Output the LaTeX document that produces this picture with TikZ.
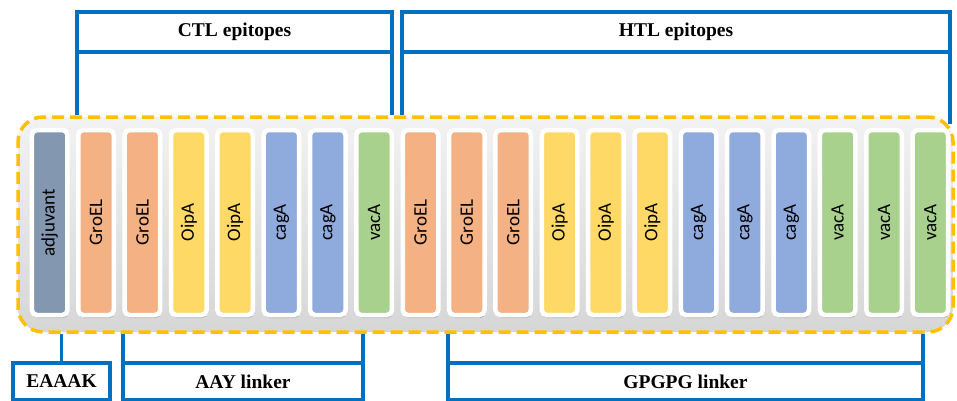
\documentclass[tikz,border=0pt]{standalone}
\usepackage{fontspec}
\setmainfont{Liberation Serif}
\newfontfamily\barfont{Carlito}
\usepackage{tikz}
\usetikzlibrary{positioning,shadows}
\definecolor{linkblue}{HTML}{0070C0}
\definecolor{dashgold}{HTML}{FFC000}
\definecolor{adjcol}{HTML}{8497B0}
\definecolor{grocol}{HTML}{F4B183}
\definecolor{oipcol}{HTML}{FFD966}
\definecolor{cagcol}{HTML}{8FAADC}
\definecolor{vaccol}{HTML}{A9D18E}

\begin{document}
\begin{tikzpicture}[x=1pt,y=-1pt,node distance=6.35pt,
  seg/.style={rectangle,rounded corners=5pt,draw=white,line width=4.5pt,minimum width=35.5pt,minimum height=185pt,inner sep=0pt,font=\barfont\fontsize{19}{19}\selectfont,drop shadow={shadow xshift=0.8pt,shadow yshift=-3pt,fill=black!40,opacity=.6}},
  head/.style={rectangle,draw=linkblue,line width=3.2pt,outer sep=0pt,fill=white,minimum height=40pt,font=\bfseries\fontsize{19.5}{20}\selectfont},
  link/.style={rectangle,draw=linkblue,line width=3.2pt,outer sep=0pt,fill=white,minimum height=37pt,font=\bfseries\fontsize{19.5}{20}\selectfont},
  leg/.style={draw=linkblue,line width=3.2pt}]
 \useasboundingbox (0,0) rectangle (957,400);

 % dashed frame round the construct
 \node (frame) [rectangle,rounded corners=25pt,draw=dashgold,line width=3.5pt,dash pattern=on 12pt off 6pt,top color=black!5,bottom color=black!16,minimum width=935pt,minimum height=215pt] at (485.5,224.5) {};

 \node (b1) [seg,fill=adjcol] at (49.7,222.5) {\rotatebox{90}{adjuvant}};
 \node (b2) [seg,fill=grocol,right=of b1] {\rotatebox{90}{GroEL}};
 \node (b3) [seg,fill=grocol,right=of b2] {\rotatebox{90}{GroEL}};
 \node (b4) [seg,fill=oipcol,right=of b3] {\rotatebox{90}{OipA}};
 \node (b5) [seg,fill=oipcol,right=of b4] {\rotatebox{90}{OipA}};
 \node (b6) [seg,fill=cagcol,right=of b5] {\rotatebox{90}{cagA}};
 \node (b7) [seg,fill=cagcol,right=of b6] {\rotatebox{90}{cagA}};
 \node (b8) [seg,fill=vaccol,right=of b7] {\rotatebox{90}{vacA}};
 \node (b9) [seg,fill=grocol,right=of b8] {\rotatebox{90}{GroEL}};
 \node (b10) [seg,fill=grocol,right=of b9] {\rotatebox{90}{GroEL}};
 \node (b11) [seg,fill=grocol,right=of b10] {\rotatebox{90}{GroEL}};
 \node (b12) [seg,fill=oipcol,right=of b11] {\rotatebox{90}{OipA}};
 \node (b13) [seg,fill=oipcol,right=of b12] {\rotatebox{90}{OipA}};
 \node (b14) [seg,fill=oipcol,right=of b13] {\rotatebox{90}{OipA}};
 \node (b15) [seg,fill=cagcol,right=of b14] {\rotatebox{90}{cagA}};
 \node (b16) [seg,fill=cagcol,right=of b15] {\rotatebox{90}{cagA}};
 \node (b17) [seg,fill=cagcol,right=of b16] {\rotatebox{90}{cagA}};
 \node (b18) [seg,fill=vaccol,right=of b17] {\rotatebox{90}{vacA}};
 \node (b19) [seg,fill=vaccol,right=of b18] {\rotatebox{90}{vacA}};
 \node (b20) [seg,fill=vaccol,right=of b19] {\rotatebox{90}{vacA}};

 % epitope brackets
 \node (ctl) [head,minimum width=315pt] at (234.5,32) {CTL epitopes};
 \node (htl) [head,minimum width=548pt] at (676,32) {HTL epitopes};
 \coordinate (htlend) at (950,124);

 % linker brackets
 \node (eaaak) [link,minimum width=97pt] at (61.5,381.5) {EAAAK};
 \node (aay) [link,minimum width=240pt] at (243,381.5) {AAY linker};
 \node (gpgpg) [link,minimum width=475pt] at (685.5,381.5) {GPGPG linker};

 \path[leg]
  (ctl.south west) -- (ctl.south west |- frame.north)
  (ctl.south east) -- (ctl.south east |- frame.north)
  (htl.south west) -- (htl.south west |- frame.north)
  (htl.south east) -- (htlend)
  (eaaak.north) -- (eaaak.north |- frame.south)
  (aay.north west) -- (aay.north west |- frame.south)
  (aay.north east) -- (aay.north east |- frame.south)
  (gpgpg.north west) -- (gpgpg.north west |- frame.south)
  (gpgpg.north east) -- (gpgpg.north east |- frame.south)
  ;
\end{tikzpicture}
\end{document}
